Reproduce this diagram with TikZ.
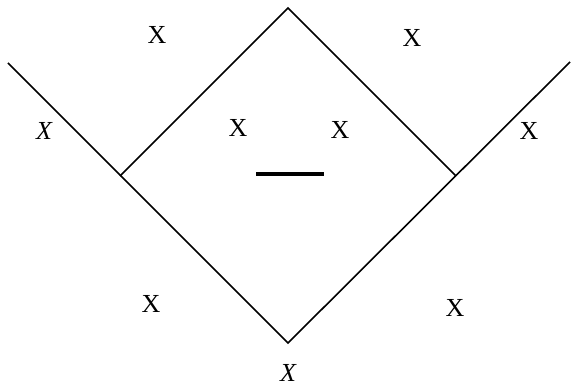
\documentclass[tikz,border=0pt]{standalone}
\usepackage{fontspec}
\setmainfont{Liberation Serif}
\usepackage{tikz}

\begin{document}
\begin{tikzpicture}[x=1pt, y=-1pt, line width=1.6pt, every node/.style={font=\fontsize{26}{28}\selectfont, inner sep=0pt}]
\useasboundingbox (0,0) rectangle (579,387);
\coordinate (L) at (8,63);
\coordinate (R) at (570,62);
\coordinate (T) at (288,8);
\coordinate (B) at (288,343);
\coordinate (DL) at (120,176);
\coordinate (DR) at (456,176);
\coordinate (m1) at (256,174);
\coordinate (m2) at (324,174);
\node (x1) at (157,35) {X};
\node (x2) at (412,38) {X};
\node (x3) at (44,131) {\itshape X};
\node (x4) at (238,128) {X};
\node (x5) at (340,130) {X};
\node (x6) at (529,131) {X};
\node (x7) at (151,304) {X};
\node (x8) at (455,308) {X};
\node (x9) at (288,373) {\itshape X};
\draw (L) -- (B) -- (R);
\draw (DL) -- (T) -- (DR);
\draw[line width=4.5pt] (m1) -- (m2);
\end{tikzpicture}
\end{document}
